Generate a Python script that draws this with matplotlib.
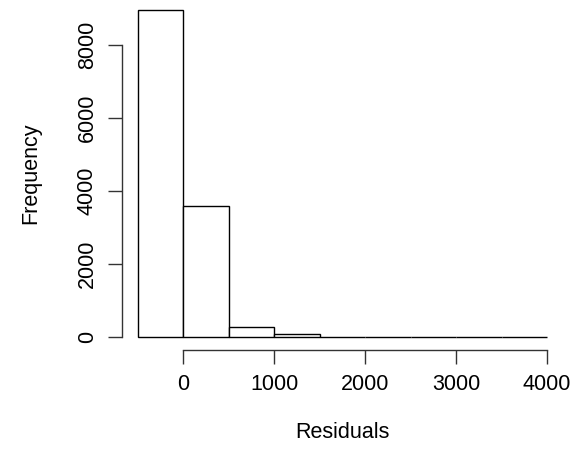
import matplotlib.pyplot as plt
import numpy as np

plt.rcParams["font.family"] = ["Liberation Sans", "DejaVu Sans"]

# histogram of residuals, bins of width 500
bin_edges = [-500, 0, 500, 1000, 1500, 2000, 2500, 3000, 3500, 4000]
counts = [8970, 3590, 280, 80, 12, 5, 3, 2, 1]
x_ticks = [0, 1000, 2000, 3000, 4000]
y_ticks = [0, 2000, 4000, 6000, 8000]

fig = plt.figure(figsize=(5.77, 4.67), dpi=100)
ax = fig.add_axes([0.2107, 0.2503, 0.7657, 0.7574])

edges = np.array(bin_edges)
ax.bar(edges[:-1], counts, width=np.diff(edges), align="edge",
       color="white", edgecolor="black", linewidth=1.0)

ax.set_xlim(-680, 4180)
ymax = max(counts)
ax.set_ylim(-0.04 * ymax, 1.04 * ymax)

for s in ["top", "right"]:
    ax.spines[s].set_visible(False)
ax.spines["bottom"].set_bounds(0, 4000)
ax.spines["left"].set_bounds(0, 8000)
for s in ["bottom", "left"]:
    ax.spines[s].set_color("#333333")
    ax.spines[s].set_linewidth(1.0)

ax.set_xticks(x_ticks)
ax.set_yticks(y_ticks)
ax.set_yticklabels([str(v) for v in y_ticks], rotation=90, va="center")
ax.tick_params(axis="both", length=10, width=1.0, color="#333333",
               labelsize=15.5, pad=7)

ax.set_xlabel("Residuals", fontsize=15.5, labelpad=20)
ax.set_ylabel("Frequency", fontsize=15.5, labelpad=26)

fig.savefig("out.png", dpi=100)
